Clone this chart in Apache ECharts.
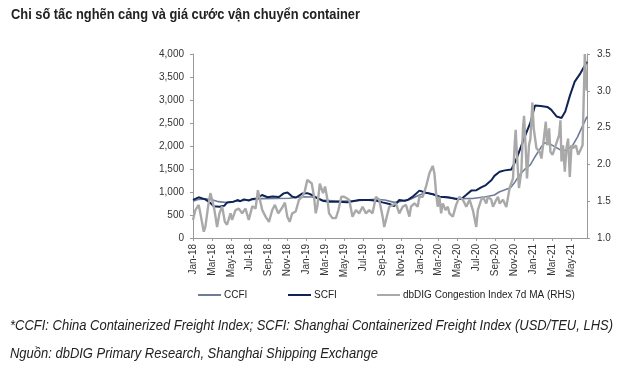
<!DOCTYPE html>
<html>
<head>
<meta charset="utf-8">
<script src="https://cdn.jsdelivr.net/npm/echarts@6/dist/echarts.min.js"></script>
<style>
html,body{margin:0;padding:0;background:#fff;}
#c{width:640px;height:374px;}
</style>
</head>
<body>
<div id="c"></div>
<script>
// x values are months since Jan 2018 (0 = Jan-18)
var monthNames = ['Jan','Feb','Mar','Apr','May','Jun','Jul','Aug','Sep','Oct','Nov','Dec'];
var leftTicks = [0, 500, 1000, 1500, 2000, 2500, 3000, 3500, 4000];
var rightTicks = [1.0, 1.5, 2.0, 2.5, 3.0, 3.5];
var seriesNames = ['CCFI', 'SCFI', 'dbDIG Congestion Index 7d MA (RHS)'];

var ccfi = [
 [0,800],[0.6,840],[1.3,850],[2.0,830],[2.7,790],[3.6,770],[4.5,800],[5.9,826],[7.3,855],
 [8.7,860],[10.2,863],[11.6,898],[12.6,890],[13.2,863],[13.7,826],[15.1,804],[17.2,810],
 [19.3,840],[20.3,826],[21.3,775],[21.8,790],[22.9,830],[23.96,935],[24.67,985],[25.4,950],
 [26.1,898],[27.8,855],[29.6,860],[31.0,898],[31.9,935],[32.4,1000],[33.6,1090],[34.1,1225],
 [34.6,1380],[35.1,1490],[35.7,1590],[36.3,1800],[36.8,1960],[37.2,2070],[37.9,2030],
 [38.5,1960],[39.1,1890],[39.6,1920],[40.2,2020],[40.7,2200],[41.2,2420],[41.7,2640]
];

var scfi = [
 [0,830],[0.6,885],[1.3,840],[1.85,760],[2.2,690],[2.8,680],[3.3,700],[3.6,770],[4.3,790],
 [4.7,825],[5.0,800],[5.4,840],[5.9,815],[6.3,850],[6.8,860],[7.3,935],[7.9,885],[8.4,900],
 [9.1,890],[9.6,970],[10.0,990],[10.5,900],[10.9,880],[11.6,970],[12.1,975],[12.6,935],
 [13.2,863],[13.7,811],[14.4,790],[15.3,790],[16.35,775],[16.9,800],[17.6,826],[18.65,826],
 [19.4,811],[20.06,774],[20.78,740],[21.3,695],[21.83,826],[22.4,810],[22.7,826],[23.25,898],
 [23.96,1030],[24.67,985],[25.4,950],[26.1,898],[27.0,885],[27.9,848],[28.4,850],[28.9,935],
 [29.45,1030],[30.0,1040],[30.5,1100],[31.0,1150],[31.6,1260],[31.9,1350],[32.45,1440],
 [33.0,1470],[33.7,1490],[34.2,1700],[34.9,2090],[35.4,2350],[35.7,2500],[36.2,2880],
 [36.8,2870],[37.5,2850],[37.9,2790],[38.5,2640],[39.0,2610],[39.4,2750],[39.9,3100],
 [40.4,3400],[41.0,3580],[41.7,3830]
];

var congestion = [
 [0,1.245],[0.25,1.38],[0.6,1.45],[0.78,1.335],[1.14,1.086],[1.31,1.15],[1.6,1.43],[1.84,1.61],
 [2.0,1.61],[2.2,1.43],[2.38,1.29],[2.55,1.15],[2.8,1.335],[3.08,1.43],[3.37,1.22],[3.6,1.18],
 [3.97,1.335],[4.14,1.245],[4.5,1.38],[4.85,1.40],[5.2,1.335],[5.56,1.40],[5.9,1.245],[6.27,1.43],
 [6.62,1.40],[6.87,1.65],[7.08,1.52],[7.33,1.38],[7.68,1.29],[8.04,1.22],[8.39,1.38],[8.67,1.45],
 [9.02,1.335],[9.38,1.40],[9.73,1.48],[9.98,1.29],[10.23,1.22],[10.5,1.335],[10.87,1.36],
 [11.22,1.52],[11.57,1.56],[11.82,1.63],[12.1,1.79],[12.28,1.81],[12.57,1.74],[12.81,1.56],
 [12.99,1.335],[13.16,1.43],[13.42,1.74],[13.63,1.76],[13.77,1.61],[13.98,1.70],[14.23,1.52],
 [14.4,1.335],[14.76,1.27],[15.12,1.27],[15.39,1.38],[15.7,1.56],[16.0,1.56],[16.53,1.52],
 [16.88,1.29],[17.24,1.38],[17.59,1.335],[17.95,1.425],[18.3,1.335],[18.65,1.38],[19.0,1.335],
 [19.36,1.56],[19.71,1.52],[20.07,1.29],[20.24,1.15],[20.77,1.425],[21.48,1.47],[21.83,1.335],
 [22.19,1.425],[22.54,1.45],[22.9,1.29],[23.07,1.425],[23.43,1.47],[23.78,1.425],[23.96,1.56],
 [24.31,1.56],[24.67,1.70],[25.02,1.88],[25.37,1.98],[25.55,1.88],[25.73,1.61],[25.9,1.425],
 [26.08,1.56],[26.26,1.335],[26.44,1.47],[26.72,1.38],[26.97,1.425],[27.14,1.335],[27.5,1.29],
 [27.85,1.45],[28.2,1.56],[28.56,1.52],[28.92,1.425],[29.27,1.52],[29.62,1.38],[29.98,1.15],
 [30.15,1.38],[30.51,1.52],[30.68,1.56],[31.04,1.47],[31.22,1.56],[31.57,1.52],[31.75,1.425],
 [32.1,1.52],[32.28,1.56],[32.45,1.47],[32.81,1.52],[33.16,1.42],[33.51,1.68],[33.87,1.81],
 [34.04,2.26],[34.15,2.47],[34.29,2.13],[34.5,1.68],[34.75,1.90],[34.93,2.5],[35.04,2.66],
 [35.21,2.22],[35.35,1.81],[35.56,2.26],[35.71,2.35],[35.92,2.84],[36.06,2.49],[36.35,2.22],
 [36.7,2.17],[36.88,2.08],[37.05,2.26],[37.34,2.58],[37.48,2.26],[37.69,2.49],[37.83,2.17],
 [38.05,2.13],[38.29,2.22],[38.47,2.24],[38.75,2.40],[38.89,2.60],[39.0,2.04],[39.17,2.26],
 [39.35,1.90],[39.53,2.22],[39.7,2.35],[39.88,1.83],[40.06,2.26],[40.23,2.22],[40.52,2.26],
 [40.77,2.13],[41.02,2.20],[41.23,2.26],[41.47,3.5],[41.66,3.0]
];

var titleText = 'Chi số tấc nghẽn cảng và giá cước vận chuyển container';
var noteText = '*CCFI: China Containerized Freight Index; SCFI: Shanghai Containerized Freight Index (USD/TEU, LHS)';
var sourceText = 'Nguồn: dbDIG Primary Research, Shanghai Shipping Exchange';

var colors = ['#6e7c98', '#0f2356', '#a9a9a9'];
var base = '"Liberation Sans", Arial, sans-serif';
var titleFont = 'bold 15px "Liberation Sans", Arial, sans-serif';
var noteFont = 'italic 14px "Liberation Sans", Arial, sans-serif';

// condense text horizontally (reference uses a narrow typeface)
var ctx = document.createElement('canvas').getContext('2d');
function textWidth(t, f) { ctx.font = f; return ctx.measureText(t).width; }
var titleScale = 349 / textWidth(titleText, titleFont);
var noteScale = 603 / textWidth(noteText, noteFont);

var chart = echarts.init(document.getElementById('c'), null, {renderer: 'canvas'});
function monthLabel(v) {
  var m = Math.round(v);
  return monthNames[m % 12] + '-' + (18 + Math.floor(m / 12));
}
var legendBase = {
  top: 285, itemWidth: 23, itemHeight: 10, itemGap: 4, icon: 'path://M0,4h23v2h-23z',
  textStyle: {fontFamily: base, fontSize: 10, color: '#222', padding: [0, 0, 0, -2]}, selectedMode: false
};
chart.setOption({
  animation: false,
  graphic: [
    {type: 'text', x: 11, y: 7, scaleX: titleScale, originX: 0,
     style: {text: titleText, font: titleFont, fill: '#222', textVerticalAlign: 'top'}},
    {type: 'text', x: 10, y: 319, scaleX: noteScale, originX: 0,
     style: {text: noteText, font: noteFont, fill: '#222', textVerticalAlign: 'top'}},
    {type: 'text', x: 10, y: 347, scaleX: noteScale, originX: 0,
     style: {text: sourceText, font: noteFont, fill: '#222', textVerticalAlign: 'top'}}
  ],
  legend: [
    Object.assign({}, legendBase, {left: 193, data: [seriesNames[0]]}),
    Object.assign({}, legendBase, {left: 283, data: [seriesNames[1]]}),
    Object.assign({}, legendBase, {left: 372, data: [seriesNames[2]]})
  ],
  grid: {left: 193, right: 53, top: 54, bottom: 136, containLabel: false},
  xAxis: {
    type: 'value', min: 0, max: 41.7, interval: 2,
    splitLine: {show: false},
    axisLine: {lineStyle: {color: '#9a9a9a'}},
    axisTick: {show: true, length: 3, lineStyle: {color: '#9a9a9a'}},
    axisLabel: {rotate: 90, fontFamily: base, fontSize: 10, color: '#333', margin: 6,
      showMaxLabel: false, formatter: monthLabel}
  },
  yAxis: [
    {type: 'value', min: leftTicks[0], max: leftTicks[leftTicks.length-1], interval: 500,
     splitLine: {show: false},
     axisLine: {show: true, lineStyle: {color: '#9a9a9a'}},
     axisTick: {show: true, length: 3, lineStyle: {color: '#9a9a9a'}},
     axisLabel: {fontFamily: base, fontSize: 10, color: '#333', margin: 9,
       formatter: function (v) { return v.toLocaleString('en-US'); }}},
    {type: 'value', min: rightTicks[0], max: rightTicks[rightTicks.length-1], interval: 0.5,
     splitLine: {show: false},
     axisLine: {show: true, lineStyle: {color: '#9a9a9a'}},
     axisTick: {show: true, length: 3, lineStyle: {color: '#9a9a9a'}},
     axisLabel: {fontFamily: base, fontSize: 10, color: '#333', margin: 10,
       formatter: function (v) { return v.toFixed(1); }}}
  ],
  series: [
    {name: seriesNames[0], type: 'line', yAxisIndex: 0, data: ccfi, showSymbol: false, symbol: 'none',
     lineStyle: {color: colors[0], width: 1.6}, itemStyle: {color: colors[0]}, z: 2},
    {name: seriesNames[1], type: 'line', yAxisIndex: 0, data: scfi, showSymbol: false, symbol: 'none',
     lineStyle: {color: colors[1], width: 2}, itemStyle: {color: colors[1]}, z: 3},
    {name: seriesNames[2], type: 'line', yAxisIndex: 1, data: congestion, showSymbol: false, symbol: 'none',
     lineStyle: {color: colors[2], width: 2.4}, itemStyle: {color: colors[2]}, z: 4}
  ]
});
</script>
</body>
</html>
